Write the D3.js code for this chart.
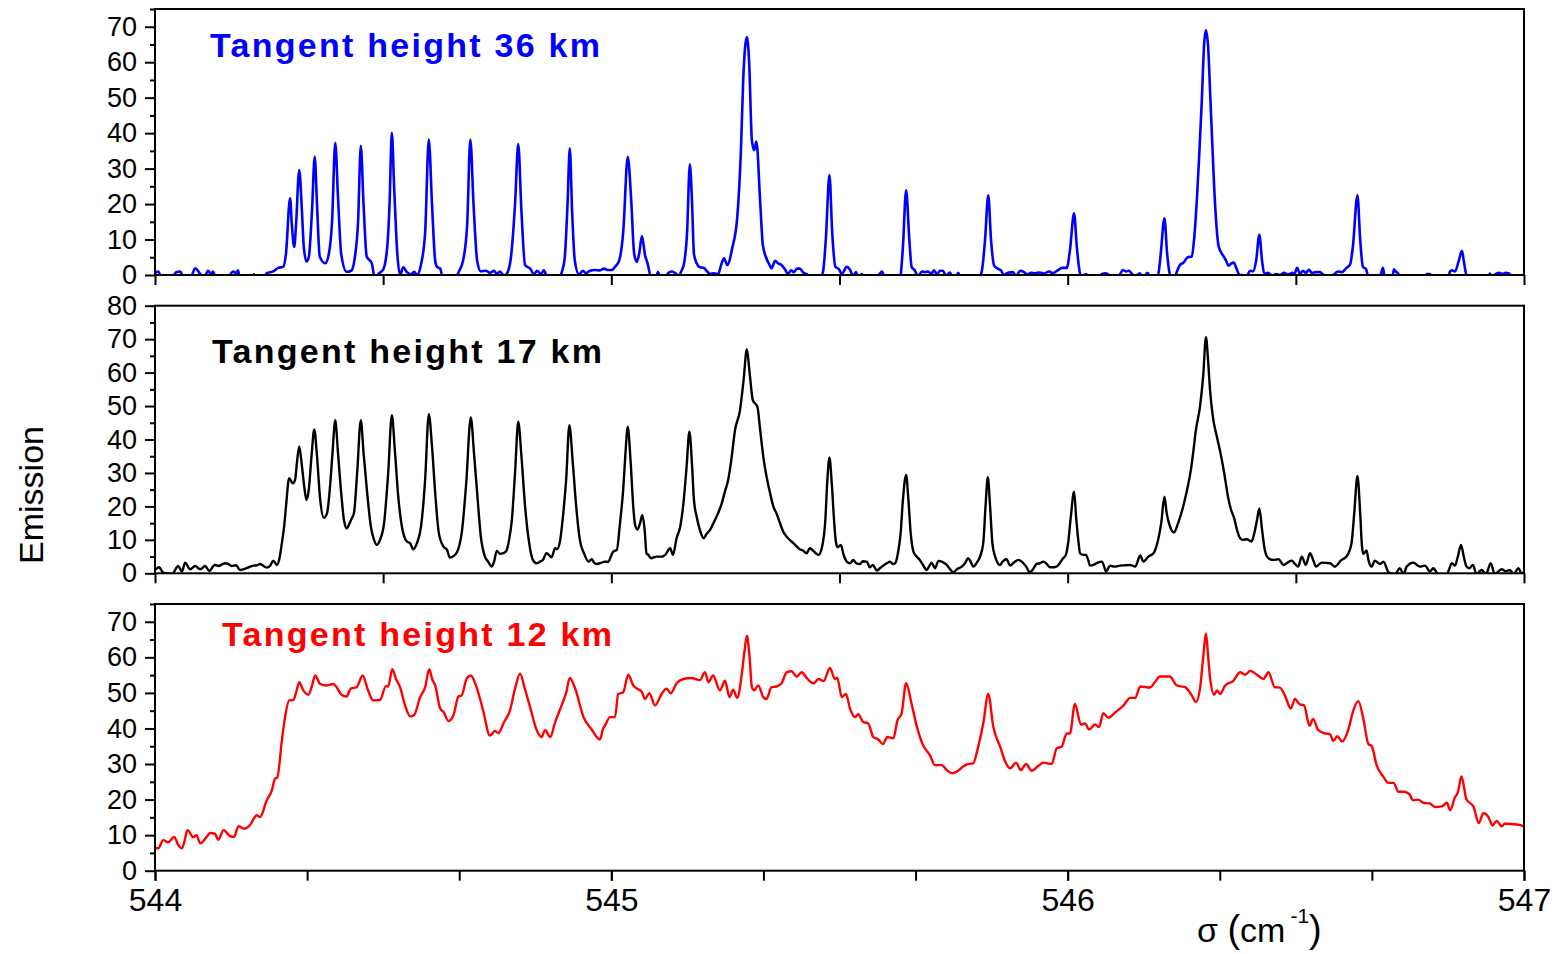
<!DOCTYPE html>
<html>
<head>
<meta charset="utf-8">
<script src="https://cdn.jsdelivr.net/npm/d3@7"></script>
<style>
  body { margin: 0; background: #fff; }
  svg text { font-family: "Liberation Sans", Arial, sans-serif; }
</style>
</head>
<body>
<svg id="chart" width="1558" height="954"></svg>
<script>
// Limb emission spectra, [wavenumber (cm-1), emission]
const spectrum36 = [
[544.000,0.5],[544.007,1.0],[544.015,-1],[544.037,-1],[544.046,0.8],[544.055,1.0],[544.064,-1],[544.077,-1],[544.088,1.9],[544.099,0.3],[544.107,-1],[544.116,1.2],[544.123,0.2],[544.127,1.0],[544.134,-1],[544.160,-1],[544.167,0.5],[544.171,1.0],[544.178,0.5],[544.182,1.3],[544.186,-1],[544.213,-1],[544.217,0.2],[544.221,-1],[544.239,-1],[544.245,0.5],[544.259,1.0],[544.270,2.0],[544.281,2.3],[544.287,6],[544.296,21.6],[544.300,14],[544.305,7.9],[544.309,14],[544.316,29.6],[544.322,18],[544.326,8],[544.332,3.8],[544.337,5],[544.344,18],[544.350,33.3],[544.355,20],[544.361,5.2],[544.373,3.3],[544.381,6],[544.388,15],[544.395,37.3],[544.401,22],[544.408,6],[544.420,0.9],[544.430,1.2],[544.438,5],[544.445,15],[544.451,36.4],[544.457,20],[544.464,5.2],[544.475,3.3],[544.482,-1],[544.491,0.5],[544.500,1.5],[544.509,8],[544.514,20],[544.519,40.1],[544.524,25],[544.531,6],[544.537,0],[544.544,2.2],[544.552,0.8],[544.561,0.2],[544.568,0.9],[544.574,0],[544.583,3],[544.592,12],[544.600,38.2],[544.607,20],[544.614,4],[544.618,2.3],[544.625,1.8],[544.631,-1],[544.657,-1],[544.666,1.0],[544.675,4],[544.684,14],[544.691,38.2],[544.698,20],[544.706,4],[544.714,1.0],[544.725,1.2],[544.734,0.6],[544.743,1.2],[544.749,0.3],[544.756,1.0],[544.765,-0.3],[544.774,1.2],[544.780,5],[544.789,20],[544.796,36.9],[544.803,18],[544.811,2.8],[544.822,1.8],[544.831,0.2],[544.837,1.2],[544.846,0.3],[544.852,1.3],[544.861,-1],[544.883,-1],[544.892,1.0],[544.898,5],[544.904,20],[544.909,35.7],[544.914,18],[544.920,4],[544.929,0.2],[544.938,1.2],[544.944,0.5],[544.953,1.2],[544.964,1.4],[544.975,1.3],[544.984,1.8],[544.993,1.4],[545.001,1.4],[545.008,2.3],[545.017,4],[545.026,12],[545.036,33.3],[545.044,20],[545.050,6],[545.056,3.7],[545.061,6],[545.067,11],[545.074,5.5],[545.079,3.5],[545.088,-1],[545.098,-1],[545.102,0.8],[545.109,-1],[545.120,-1],[545.124,0.5],[545.133,1.0],[545.142,0.3],[545.148,-0.3],[545.153,1.0],[545.159,3],[545.166,12],[545.172,31.2],[545.177,20],[545.181,6],[545.187,3.3],[545.194,2.2],[545.203,2.0],[545.210,1.0],[545.217,0.3],[545.225,0.5],[545.234,0.2],[545.241,3],[545.247,4.7],[545.254,2.8],[545.265,7.6],[545.276,16.4],[545.284,35.2],[545.289,55],[545.297,67.1],[545.302,60],[545.308,38],[545.313,35.2],[545.318,37.6],[545.326,21],[545.332,8.5],[545.339,5],[545.346,3],[545.351,1.9],[545.359,4.0],[545.365,3.3],[545.373,2.8],[545.381,1.5],[545.387,0.3],[545.394,1.3],[545.400,0.8],[545.407,1.8],[545.413,1.8],[545.420,0.8],[545.431,0],[545.440,-1],[545.457,-1],[545.464,1.0],[545.470,10],[545.478,28.2],[545.484,12],[545.491,2.3],[545.499,1.6],[545.505,0.3],[545.516,2.3],[545.523,1.5],[545.530,-0.3],[545.536,0.8],[545.541,-1],[545.549,0.3],[545.556,-1],[545.580,-1],[545.588,0.3],[545.593,1.0],[545.600,-1],[545.633,-1],[545.635,1.0],[545.639,8],[545.646,23.9],[545.653,10],[545.658,2.3],[545.665,1.3],[545.672,-0.3],[545.681,1.0],[545.687,0.8],[545.694,1.0],[545.701,0.3],[545.707,1.3],[545.714,0.2],[545.720,1.2],[545.727,1.2],[545.733,-0.3],[545.742,0.7],[545.749,-1],[545.755,-1],[545.760,0.6],[545.766,-1],[545.804,-1],[545.812,1.2],[545.819,10],[545.826,22.5],[545.832,10],[545.839,2.6],[545.847,1.8],[545.854,1.3],[545.860,0],[545.869,0.6],[545.880,0.8],[545.887,-0.3],[545.896,1.2],[545.902,1.0],[545.911,0.2],[545.920,0.6],[545.928,0.5],[545.939,0.7],[545.948,0.4],[545.959,1.0],[545.968,0.5],[545.977,1.2],[545.988,2.0],[545.998,2.0],[546.005,7],[546.014,17.4],[546.020,8],[546.025,2.0],[546.031,-1],[546.040,0.3],[546.049,-1],[546.066,-1],[546.075,0.3],[546.084,0.5],[546.093,-0.3],[546.106,-1],[546.115,0.3],[546.121,1.4],[546.128,1.0],[546.134,1.2],[546.141,0.3],[546.147,-0.4],[546.158,0.5],[546.165,-1],[546.175,0.6],[546.182,-1],[546.195,-1],[546.200,1.3],[546.204,6],[546.212,16],[546.218,6],[546.222,1.5],[546.227,-1],[546.235,-1],[546.239,0.8],[546.246,2.8],[546.254,3.5],[546.263,5.0],[546.272,5.2],[546.277,10],[546.283,21],[546.288,33],[546.294,49.3],[546.299,65],[546.303,69],[546.308,64],[546.312,52],[546.316,39.9],[546.323,20],[546.331,8],[546.342,5.2],[546.348,3.8],[546.352,2.6],[546.358,3.2],[546.364,3.5],[546.370,1.8],[546.377,0],[546.383,0],[546.392,-0.2],[546.400,1.2],[546.406,1.0],[546.413,4],[546.420,11.3],[546.426,4],[546.431,0.3],[546.439,0.6],[546.448,-0.3],[546.457,0.3],[546.465,0],[546.474,0.6],[546.483,0.2],[546.493,0.6],[546.496,0],[546.503,2.0],[546.509,0.3],[546.516,1.2],[546.522,0.6],[546.529,1.5],[546.535,0.6],[546.544,0.8],[546.553,0.8],[546.561,0],[546.575,-0.3],[546.584,0.2],[546.592,1.0],[546.601,0.8],[546.611,2.0],[546.619,3],[546.625,8],[546.635,22.5],[546.641,10],[546.647,2.3],[546.654,1.6],[546.660,-1],[546.680,-1],[546.687,0.5],[546.691,2.0],[546.695,-1],[546.711,-1],[546.715,1.6],[546.719,1.0],[546.724,0.5],[546.728,-1],[546.783,-1],[546.787,0.3],[546.794,0.3],[546.800,-1],[546.833,-1],[546.838,1.0],[546.842,1.3],[546.849,1.0],[546.857,4],[546.864,6.8],[546.868,4],[546.873,0.3],[546.877,-1],[546.921,-1],[546.925,0.4],[546.930,-0.3],[546.938,0.3],[546.946,0.6],[546.953,0.3],[546.960,0.6],[546.966,0.5],[546.973,-0.3],[547.000,-1]
];

const spectrum17 = [
[544.000,1.0],[544.009,1.8],[544.018,0.2],[544.037,-0.2],[544.051,2.2],[544.059,0.5],[544.066,3.2],[544.077,1.2],[544.088,2.2],[544.099,1.2],[544.110,2.2],[544.119,0.7],[544.131,2.5],[544.140,2.2],[544.153,3.0],[544.160,2.8],[544.168,2.2],[544.178,2.4],[544.186,1.0],[544.202,1.6],[544.215,2.3],[544.224,2.4],[544.230,2.8],[544.245,1.7],[544.252,2.2],[544.259,3.8],[544.267,2.5],[544.272,4],[544.278,9],[544.283,14],[544.287,19.9],[544.294,28.4],[544.302,26.9],[544.307,28],[544.311,33],[544.316,37.9],[544.322,32],[544.327,26],[544.332,21.9],[544.337,25],[544.343,35],[544.349,43],[544.355,35],[544.362,22],[544.370,16.6],[544.377,18],[544.383,25],[544.389,36],[544.395,45.8],[544.401,36],[544.408,24],[544.414,16],[544.420,13.4],[544.425,14.5],[544.431,16.4],[544.436,18],[544.443,30],[544.451,45.8],[544.457,36],[544.465,24],[544.473,14],[544.480,10],[544.486,8.5],[544.493,10],[544.502,15],[544.511,30],[544.519,47.3],[544.526,36],[544.533,23],[544.541,14],[544.552,9.5],[544.559,9],[544.566,7.2],[544.574,9],[544.583,14],[544.592,28],[544.600,47.6],[544.607,38],[544.614,24],[544.622,12],[544.632,8],[544.640,7],[544.646,4.7],[544.655,5.2],[544.664,7],[544.673,13],[544.682,27],[544.692,46.6],[544.699,36],[544.706,24],[544.714,11],[544.723,5],[544.730,3.5],[544.738,2.0],[544.743,3.5],[544.749,6.7],[544.756,5.8],[544.763,6.0],[544.769,6.5],[544.776,10],[544.782,16],[544.789,30],[544.796,45.3],[544.803,35],[544.811,20],[544.820,9],[544.828,4],[544.836,3.0],[544.844,3.5],[544.850,4],[544.858,6.0],[544.863,5.5],[544.869,4.8],[544.877,7.5],[544.881,7.2],[544.888,10],[544.894,17],[544.901,28],[544.908,44.3],[544.915,34],[544.923,20],[544.931,10],[544.940,6],[544.950,3.5],[544.957,4.2],[544.962,3.2],[544.968,2.8],[544.975,3.0],[544.986,3.5],[544.993,3.4],[544.999,5],[545.004,6.5],[545.012,7],[545.019,15],[545.026,25],[545.031,36],[545.036,43.8],[545.042,34],[545.048,20],[545.052,14.5],[545.057,13.1],[545.063,15],[545.068,17.4],[545.073,13],[545.077,6],[545.081,5.5],[545.087,4.5],[545.099,5.0],[545.112,5.0],[545.118,5.5],[545.129,7.5],[545.135,5.5],[545.143,10.5],[545.151,14],[545.158,20.9],[545.165,32],[545.171,42.3],[545.177,32],[545.181,22],[545.187,16.9],[545.194,13],[545.202,10.5],[545.209,11.8],[545.216,12.9],[545.227,15.9],[545.234,18],[545.242,20.9],[545.249,24.5],[545.256,27.9],[545.263,34],[545.271,42.8],[545.282,48.8],[545.290,58],[545.297,67],[545.303,60],[545.310,51.8],[545.320,49.8],[545.326,43],[545.333,34.9],[545.340,29],[545.348,23.9],[545.355,20],[545.362,17.9],[545.377,12.4],[545.387,10.5],[545.399,9.0],[545.413,7.2],[545.420,6.8],[545.428,6.0],[545.435,7.5],[545.444,6.5],[545.454,5.5],[545.462,8],[545.469,16],[545.473,27],[545.478,34.6],[545.483,27],[545.488,16],[545.492,9.5],[545.496,7.8],[545.503,8.5],[545.509,5.5],[545.516,3.5],[545.523,3.0],[545.530,4.0],[545.537,3.0],[545.545,2.8],[545.551,3.6],[545.560,3.5],[545.566,1.8],[545.573,2.5],[545.582,0.8],[545.589,1.6],[545.598,2.5],[545.604,3.0],[545.611,3.5],[545.617,2.8],[545.622,3.0],[545.628,6],[545.634,12],[545.639,22],[545.646,29.4],[545.651,22],[545.656,12],[545.662,6.5],[545.669,5],[545.676,4.0],[545.683,2.5],[545.691,1.0],[545.696,2.0],[545.702,3.2],[545.709,1.5],[545.717,3.7],[545.725,3.4],[545.735,2.5],[545.742,1.3],[545.749,0.3],[545.759,1.4],[545.768,2.0],[545.775,3],[545.782,4.5],[545.787,3.6],[545.793,2.0],[545.801,3.2],[545.808,5.0],[545.815,9],[545.820,20],[545.825,28.7],[545.830,20],[545.835,9],[545.841,5.0],[545.852,2.5],[545.858,3.6],[545.866,4.2],[545.874,2.3],[545.882,3.2],[545.892,4.0],[545.900,3.4],[545.909,2.0],[545.917,0.3],[545.924,1.2],[545.932,2.8],[545.939,3.0],[545.947,3.5],[545.954,2.8],[545.961,1.8],[545.970,1.8],[545.979,2.4],[545.990,4.5],[545.996,5.5],[546.001,9],[546.007,17],[546.014,24.4],[546.019,16],[546.024,9],[546.027,6.0],[546.034,5.5],[546.040,5.5],[546.045,4],[546.049,2.3],[546.058,2.6],[546.066,3.2],[546.075,3.5],[546.080,2],[546.084,0.5],[546.093,2.3],[546.102,2.0],[546.115,2.3],[546.128,2.4],[546.137,2.5],[546.148,2.0],[546.159,5.3],[546.166,3.5],[546.177,5.0],[546.188,6.0],[546.199,10.5],[546.205,15],[546.212,22.9],[546.217,18],[546.222,15.0],[546.233,12.2],[546.242,15.0],[546.253,19.9],[546.261,24.5],[546.270,30.9],[546.275,36],[546.281,42.8],[546.290,49.8],[546.297,59],[546.303,70.6],[546.308,63],[546.312,54.8],[546.318,47],[546.327,40.8],[546.335,35.9],[546.343,30],[546.352,22.4],[546.358,19],[546.365,16.4],[546.371,13],[546.378,10.5],[546.384,10.0],[546.392,10.2],[546.403,9.5],[546.409,12],[546.415,16],[546.420,19.4],[546.426,13],[546.432,7],[546.440,4.5],[546.450,4.0],[546.462,4.2],[546.473,2.5],[546.482,3.2],[546.491,3.8],[546.498,2.8],[546.505,2.0],[546.513,5.0],[546.522,2.5],[546.531,6.0],[546.538,4],[546.544,2.0],[546.557,3.2],[546.575,3.0],[546.585,2.0],[546.600,4.0],[546.611,5.0],[546.622,9.0],[546.628,18],[546.635,29.1],[546.641,18],[546.645,8],[546.648,5.8],[546.655,6.8],[546.659,4],[546.666,2.0],[546.673,3.8],[546.684,2.8],[546.692,3.5],[546.703,0.3],[546.717,-0.3],[546.728,1.5],[546.736,-0.2],[546.743,2.0],[546.757,3.2],[546.772,2.0],[546.783,2.3],[546.794,0.5],[546.801,1.5],[546.816,-1],[546.829,-1],[546.834,0.5],[546.842,3.0],[546.849,2.3],[546.855,5],[546.862,8.5],[546.868,5],[546.874,2.0],[546.880,1.5],[546.888,2.5],[546.896,-0.2],[546.907,1.0],[546.917,-0.2],[546.927,3.0],[546.936,-0.2],[546.951,1.2],[546.960,0.6],[546.969,1.0],[546.977,-0.2],[546.988,1.5],[546.995,-0.2],[547.000,0.5]
];

const spectrum12 = [
[544.000,6.3],[544.007,6.3],[544.018,8.6],[544.029,8.0],[544.042,9.5],[544.051,7.2],[544.059,6.3],[544.065,8.5],[544.071,11.4],[544.084,9.4],[544.091,10.0],[544.099,7.7],[544.113,9.5],[544.121,10.6],[544.131,10.4],[544.139,8.7],[544.150,11.4],[544.164,9.8],[544.173,9.5],[544.183,12.5],[544.195,11.8],[544.208,12.8],[544.223,15.6],[544.230,15.1],[544.245,19.8],[544.256,22.6],[544.263,25.9],[544.268,26.2],[544.278,36.6],[544.285,43.2],[544.294,47.9],[544.303,48.0],[544.309,50],[544.316,53.0],[544.325,50.7],[544.336,49.5],[544.344,52],[544.351,54.9],[544.362,52.5],[544.376,52.1],[544.391,52.5],[544.398,51.6],[544.409,49.5],[544.420,49.0],[544.429,51.2],[544.442,51.6],[544.455,54.9],[544.467,50.7],[544.478,47.9],[544.493,48.0],[544.506,51.9],[544.511,51.8],[544.520,56.7],[544.528,54],[544.537,51.6],[544.548,46.5],[544.559,43.4],[544.568,43.8],[544.581,48.8],[544.592,51.6],[544.601,56.7],[544.607,54],[544.614,52.1],[544.625,45.6],[544.633,44.5],[544.643,42.1],[544.654,43.7],[544.665,49.0],[544.672,49.3],[544.683,54.0],[544.692,54.9],[544.705,51.5],[544.719,45.1],[544.734,38.0],[544.745,39.3],[544.752,38.7],[544.765,41.8],[544.778,45.1],[544.789,51.2],[544.800,55.4],[544.811,50.9],[544.822,46.0],[544.836,39.7],[544.847,37.6],[544.855,39.5],[544.866,37.6],[544.877,41.8],[544.891,46.5],[544.901,50],[544.909,54.2],[544.920,51.5],[544.939,43.2],[544.957,39.7],[544.975,36.9],[544.982,40.0],[544.986,40.8],[544.997,43.2],[545.008,43.2],[545.015,49.7],[545.026,50.2],[545.037,55.1],[545.048,52.1],[545.067,50.2],[545.074,48.3],[545.083,49.9],[545.096,46.5],[545.110,49.7],[545.121,51.2],[545.130,49.9],[545.143,52.7],[545.158,53.9],[545.176,54.2],[545.194,53.6],[545.205,55.8],[545.213,53.0],[545.223,54.9],[545.238,50.7],[545.249,53.4],[545.259,48.8],[545.267,50.9],[545.276,48.6],[545.286,55.4],[545.292,62],[545.297,66.1],[545.303,60],[545.308,51.6],[545.313,50.7],[545.322,52.1],[545.333,48.8],[545.340,48.3],[545.351,51.6],[545.362,51.8],[545.373,52.7],[545.384,55.8],[545.395,56.1],[545.406,54.6],[545.417,55.8],[545.428,54.2],[545.443,52.7],[545.454,53.9],[545.465,53.3],[545.479,57.0],[545.490,53.9],[545.495,54.3],[545.505,48.8],[545.514,49.7],[545.523,45.6],[545.534,43.2],[545.541,44.0],[545.552,41.8],[545.563,41.4],[545.574,37.6],[545.585,36.9],[545.595,35.6],[545.605,37.6],[545.618,37.2],[545.627,42.3],[545.636,44.1],[545.646,52.7],[545.658,46.9],[545.669,40.8],[545.682,35.6],[545.698,32.5],[545.709,29.7],[545.724,29.7],[545.735,28.3],[545.748,27.4],[545.760,28.1],[545.771,29.3],[545.782,30.0],[545.793,30.2],[545.804,34.9],[545.815,41.4],[545.826,49.7],[545.837,40.5],[545.852,34.9],[545.863,30.7],[545.874,28.8],[545.887,30.4],[545.897,28.3],[545.909,30.0],[545.921,28.1],[545.936,29.5],[545.947,30.4],[545.965,30.0],[545.976,34.4],[545.987,34.9],[545.998,38.6],[546.005,38.6],[546.016,46.9],[546.029,41.1],[546.038,41.4],[546.047,39.7],[546.060,41.1],[546.069,40.4],[546.078,44.3],[546.089,43.0],[546.104,44.5],[546.122,46.4],[546.137,48.6],[546.148,48.6],[546.159,51.8],[546.180,51.5],[546.191,53.0],[546.202,54.6],[546.224,54.6],[546.239,52.1],[546.257,51.6],[546.272,49.3],[546.281,47.4],[546.290,51.2],[546.297,60],[546.303,66.7],[546.308,60],[546.312,54.3],[546.321,49.5],[546.327,50.7],[546.334,49.7],[546.345,52.1],[546.363,53.4],[546.378,55.8],[546.389,55.1],[546.400,56.2],[546.414,55.2],[546.429,53.9],[546.440,55.8],[546.454,51.6],[546.465,51.5],[546.476,49.3],[546.489,45.6],[546.498,48.3],[546.508,46.8],[546.518,46.5],[546.530,40.8],[546.538,42.7],[546.549,39.5],[546.564,38.6],[546.575,38.4],[546.582,36.5],[546.591,37.8],[546.601,36.3],[546.615,39.7],[546.626,45.1],[546.637,47.7],[546.648,42.7],[546.659,35.6],[546.666,35.1],[546.677,29.7],[546.692,26.4],[546.703,24.7],[546.714,24.7],[546.725,22.2],[546.736,22.2],[546.749,21.5],[546.757,19.8],[546.768,20.0],[546.779,19.1],[546.794,18.9],[546.805,17.9],[546.820,18.1],[546.831,19.1],[546.838,17.0],[546.849,20.7],[546.855,22],[546.863,26.5],[546.874,20.0],[546.889,18.1],[546.901,13.4],[546.911,16.2],[546.922,15.1],[546.931,12.7],[546.940,14.0],[546.951,12.5],[546.958,13.2],[546.984,13.0],[547.000,12.5]
];

const panelTitles = ["Tangent height 36 km", "Tangent height 17 km", "Tangent height 12 km"];
const yTopValues = [75, 80, 75];
const xLabelTicks = [544, 545, 546, 547];
const xAxisExponent = "-1";
const yAxisTitle = "Emission";

const svg = d3.select("#chart");
const left = 155, right = 1524;
const x = d3.scaleLinear().domain([544, 547]).range([left, right]);

const panels = [
  { data: spectrum36, title: panelTitles[0], ymax: yTopValues[0], top: 9, bottom: 275,
    color: "#0000ff", lw: 2.6, xStep: 1 / 2, tx: 210, ty: 57 },
  { data: spectrum17, title: panelTitles[1], ymax: yTopValues[1], top: 305.7, bottom: 573.3,
    color: "#000000", lw: 2.4, xStep: 1 / 2, tx: 212, ty: 363 },
  { data: spectrum12, title: panelTitles[2], ymax: yTopValues[2], top: 604, bottom: 870.7,
    color: "#ff0000", lw: 2.4, xStep: 1 / 3, tx: 222, ty: 646 }
];

function styleAxis(sel, fontSize) {
  sel.select(".domain").remove();
  sel.selectAll(".tick line").attr("stroke", "#000").attr("stroke-width", 2);
  sel.selectAll(".tick text")
    .attr("fill", "#000")
    .style("font-family", '"Liberation Sans", Arial, sans-serif')
    .style("font-size", fontSize + "px");
}

panels.forEach((p, i) => {
  const y = d3.scaleLinear().domain([0, p.ymax]).range([p.bottom, p.top]);
  const g = svg.append("g");

  const clipId = "plot-clip-" + i;
  g.append("clipPath").attr("id", clipId)
    .append("rect")
    .attr("x", left).attr("y", p.top)
    .attr("width", right - left).attr("height", p.bottom - p.top);

  const line = d3.line()
    .x(d => x(d[0]))
    .y(d => y(d[1]))
    .curve(d3.curveMonotoneX);

  g.append("path")
    .datum(p.data)
    .attr("clip-path", `url(#${clipId})`)
    .attr("fill", "none")
    .attr("stroke", p.color)
    .attr("stroke-width", p.lw)
    .attr("stroke-linejoin", "round")
    .attr("d", line);

  // y axis: labelled ticks every 10, short ticks every 5
  const major = d3.range(0, p.ymax + 0.1, 10);
  const minor = d3.range(5, p.ymax + 0.1, 10);
  g.append("g").attr("transform", `translate(${left},0)`)
    .call(d3.axisLeft(y).tickValues(minor).tickSize(5).tickFormat(""))
    .call(s => styleAxis(s, 27));
  g.append("g").attr("transform", `translate(${left},0)`)
    .call(d3.axisLeft(y).tickValues(major).tickSize(10).tickPadding(8).tickFormat(d3.format("d")))
    .call(s => styleAxis(s, 27));

  // x ticks along the lower edge of every panel
  const nSteps = Math.round(3 / p.xStep);
  const xt = d3.range(0, nSteps + 1).map(k => 544 + k * p.xStep);
  g.append("g").attr("transform", `translate(0,${p.bottom})`)
    .call(d3.axisBottom(x).tickValues(xt).tickSize(10).tickFormat(""))
    .call(s => styleAxis(s, 32));

  if (i === panels.length - 1) {
    g.append("g").attr("transform", `translate(0,${p.bottom})`)
      .call(d3.axisBottom(x).tickValues(xLabelTicks).tickSize(10).tickPadding(8).tickFormat(d3.format("d")))
      .call(s => styleAxis(s, 32));
  }

  // panel frame
  g.append("rect")
    .attr("x", left).attr("y", p.top)
    .attr("width", right - left).attr("height", p.bottom - p.top)
    .attr("fill", "none").attr("stroke", "#000").attr("stroke-width", 2);

  // panel title
  g.append("text")
    .attr("x", p.tx).attr("y", p.ty)
    .attr("fill", p.color)
    .attr("font-weight", "bold")
    .attr("font-size", 34)
    .attr("textLength", 390)
    .attr("lengthAdjust", "spacing")
    .text(p.title);
});

// axis titles
const xTitle = svg.append("text")
  .attr("x", 1197).attr("y", 942)
  .attr("font-size", 34)
  .attr("fill", "#000");
xTitle.append("tspan").text("σ ");
xTitle.append("tspan").attr("font-size", 38).text("(");
xTitle.append("tspan").text("cm");
xTitle.append("tspan").attr("font-size", 21).attr("dx", 5).attr("dy", -19).text(xAxisExponent);
xTitle.append("tspan").attr("font-size", 38).attr("dy", 19).text(")");

svg.append("text")
  .attr("transform", "translate(43,495) rotate(-90)")
  .attr("text-anchor", "middle")
  .attr("font-size", 34)
  .attr("fill", "#000")
  .text(yAxisTitle);
</script>
</body>
</html>
